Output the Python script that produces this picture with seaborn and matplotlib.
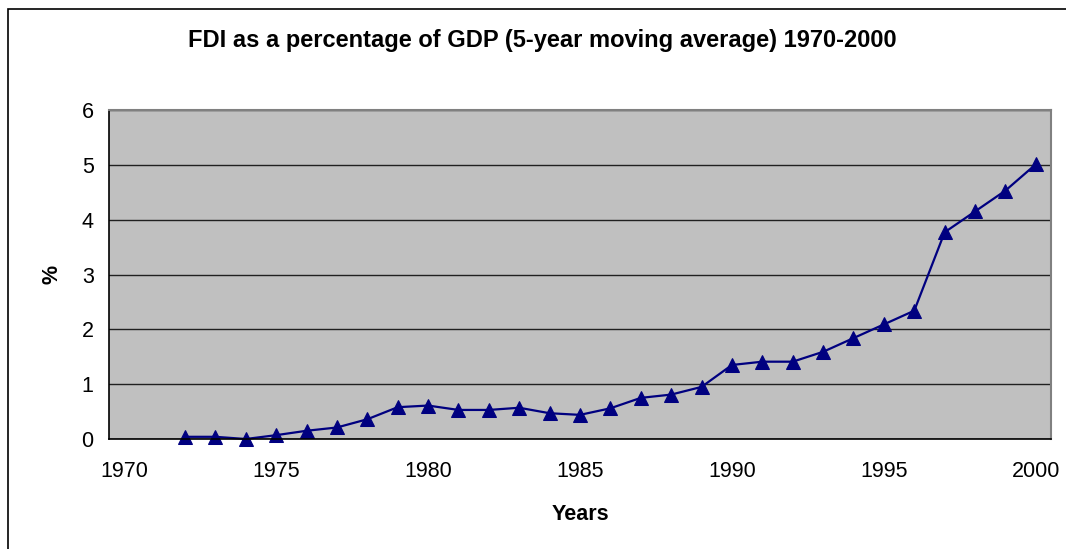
import matplotlib
matplotlib.use("Agg")
import matplotlib.pyplot as plt
from matplotlib.patches import Rectangle
from matplotlib.ticker import FixedLocator
import seaborn as sns
import pandas as pd

years = list(range(1972, 2001))
fdi_pct = [0.04, 0.04, 0.00, 0.07, 0.15, 0.21, 0.36, 0.58, 0.61, 0.53,
           0.53, 0.57, 0.47, 0.44, 0.56, 0.75, 0.81, 0.95, 1.35, 1.41,
           1.41, 1.59, 1.84, 2.09, 2.34, 3.77, 4.15, 4.53, 5.01]
tick_years = [1970, 1975, 1980, 1985, 1990, 1995, 2000]
y_ticks = [0, 1, 2, 3, 4, 5, 6]

df = pd.DataFrame({"Years": years, "pct": fdi_pct})

sns.set_style("white")
plt.rcParams["font.family"] = ["Liberation Sans", "DejaVu Sans"]
plt.rcParams["text.color"] = "black"
plt.rcParams["axes.labelcolor"] = "black"
plt.rcParams["xtick.color"] = "black"
plt.rcParams["ytick.color"] = "black"

fig = plt.figure(figsize=(10.66, 5.49), dpi=100)
ax = fig.add_axes([109 / 1066, 1 - 439 / 549, (1051 - 109) / 1066, (439 - 110) / 549])
ax.set_facecolor("#c0c0c0")

sns.lineplot(data=df, x="Years", y="pct", ax=ax, color="#000080", marker="^",
             markersize=10, markeredgecolor="#000080", linewidth=1.6, clip_on=False)

ax.set_xlim(1969.5, 2000.5)
ax.set_ylim(0, 6)
ax.set_yticks(y_ticks)
ax.set_xticks(tick_years)
ax.xaxis.set_minor_locator(FixedLocator([y + 0.5 for y in range(1969, 2001)]))
ax.tick_params(axis="x", which="major", length=0, labelsize=15.5, pad=16)
ax.tick_params(axis="x", which="minor", length=5, width=1, color="black", direction="out")
ax.tick_params(axis="y", which="major", length=5, width=1, color="black", direction="out",
               labelsize=15.5, pad=6)
ax.yaxis.grid(True, color="#202020", linewidth=1)
ax.set_axisbelow(True)

for side in ["left", "bottom"]:
    ax.spines[side].set_color("black")
    ax.spines[side].set_linewidth(1.2)
for side in ["top", "right"]:
    ax.spines[side].set_color("#808080")
    ax.spines[side].set_linewidth(1.5)

ax.set_xlabel("Years", fontsize=15.5, fontweight="bold", labelpad=16)
ax.set_ylabel("%", fontsize=15.5, fontweight="bold", labelpad=14)
fig.suptitle("FDI as a percentage of GDP (5-year moving average) 1970-2000",
             fontsize=17, fontweight="bold", x=542 / 1066, y=1 - 41 / 549, va="center")

fig.patches.append(Rectangle((8 / 1066, -0.05), 1.1, 1 - 9 / 549 + 0.05,
                             transform=fig.transFigure, fill=False,
                             edgecolor="black", linewidth=1.2))

fig.savefig("out.png", dpi=100)
